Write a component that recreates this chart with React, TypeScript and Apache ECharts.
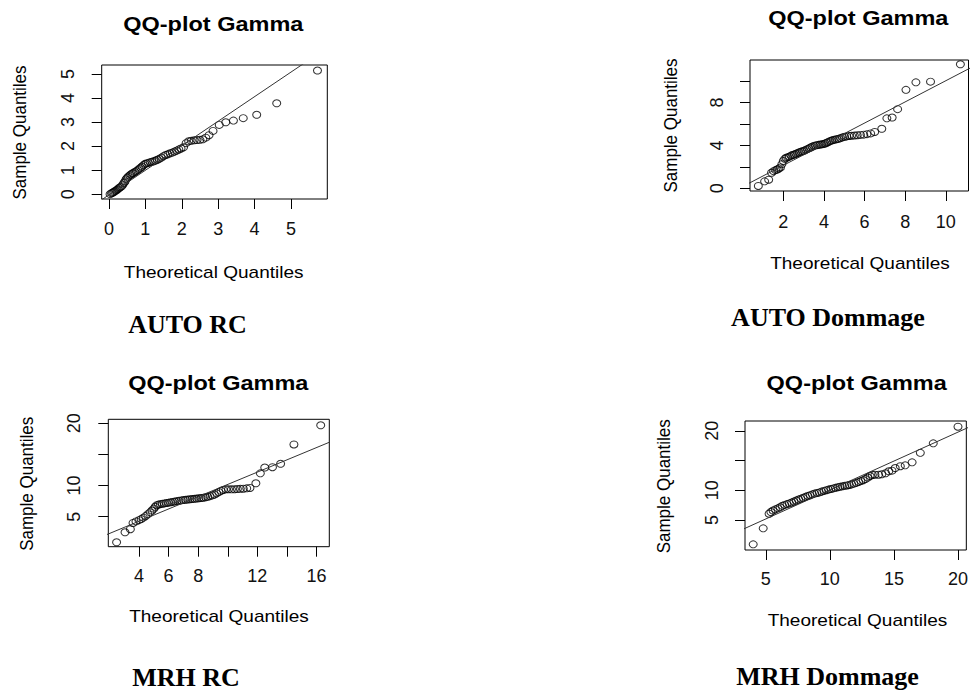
import React, { useEffect, useRef } from 'react';
import * as echarts from 'echarts';

const FONT_SANS = '"Liberation Sans", Arial, Helvetica, sans-serif';
const FONT_SERIF = '"Liberation Serif", "Times New Roman", serif';

const chartTitle = 'QQ-plot Gamma';
const xAxisTitle = 'Theoretical Quantiles';
const yAxisTitle = 'Sample Quantiles';
const captions = ['AUTO RC', 'AUTO Dommage', 'MRH RC', 'MRH Dommage'];

// ---------- AUTO RC ----------
const autoRcTheo = [
  0.03, 0.07, 0.10, 0.13, 0.16, 0.19, 0.22, 0.25, 0.28, 0.31,
  0.35, 0.38, 0.41, 0.44, 0.47, 0.50, 0.53, 0.57, 0.60, 0.64,
  0.67, 0.71, 0.75, 0.79, 0.83, 0.87, 0.91, 0.95, 0.99, 1.03,
  1.08, 1.13, 1.18, 1.23, 1.28, 1.33, 1.38, 1.44, 1.50, 1.56,
  1.62, 1.68, 1.74, 1.80, 1.86, 1.92, 1.98, 2.05, 2.12, 2.19,
  2.26, 2.34, 2.42, 2.50, 2.58, 2.66, 2.75, 2.86, 3.03, 3.21,
  3.42, 3.69, 4.06, 4.61, 5.73,
];
const autoRcSample = [
  0.00, 0.04, 0.06, 0.09, 0.12, 0.15, 0.18, 0.22, 0.26, 0.29,
  0.33, 0.40, 0.47, 0.53, 0.62, 0.68, 0.73, 0.78, 0.82, 0.86,
  0.88, 0.92, 0.96, 1.00, 1.05, 1.10, 1.15, 1.21, 1.26, 1.28,
  1.30, 1.33, 1.35, 1.37, 1.40, 1.43, 1.47, 1.52, 1.58, 1.63,
  1.66, 1.70, 1.73, 1.77, 1.81, 1.86, 1.90, 1.95, 2.12, 2.20,
  2.22, 2.24, 2.25, 2.26, 2.28, 2.35, 2.45, 2.63, 2.88, 2.99,
  3.06, 3.16, 3.30, 3.78, 5.14,
];
const autoRcLineX = [-0.3, 6.1];
const autoRcLineY = [-0.333, 6.195];
const autoRcXTicks = [0, 1, 2, 3, 4, 5];
const autoRcXLabels = [0, 1, 2, 3, 4, 5];
const autoRcYTicks = [0, 1, 2, 3, 4, 5];
const autoRcYLabels = [0, 1, 2, 3, 4, 5];

// ---------- AUTO Dommage ----------
const autoDomTheo = [
  0.77, 1.08, 1.28, 1.42, 1.52, 1.62, 1.70, 1.78, 1.86, 1.93,
  2.00, 2.07, 2.14, 2.22, 2.30, 2.38, 2.46, 2.54, 2.62, 2.70,
  2.78, 2.86, 2.94, 3.02, 3.10, 3.18, 3.26, 3.34, 3.42, 3.50,
  3.58, 3.66, 3.74, 3.82, 3.90, 3.98, 4.06, 4.14, 4.22, 4.30,
  4.38, 4.46, 4.55, 4.64, 4.73, 4.82, 4.92, 5.02, 5.12, 5.24,
  5.36, 5.50, 5.64, 5.80, 5.96, 6.12, 6.30, 6.50, 6.85, 7.10,
  7.36, 7.63, 8.04, 8.53, 9.25, 10.72,
];
const autoDomSample = [
  0.22, 0.65, 0.80, 1.45, 1.60, 1.70, 1.75, 1.85, 1.95, 2.25,
  2.55, 2.75, 2.85, 2.90, 2.95, 3.05, 3.10, 3.15, 3.22, 3.28,
  3.35, 3.40, 3.45, 3.50, 3.58, 3.65, 3.72, 3.80, 3.88, 3.95,
  4.00, 4.02, 4.05, 4.08, 4.10, 4.12, 4.18, 4.25, 4.32, 4.40,
  4.45, 4.50, 4.55, 4.58, 4.62, 4.68, 4.75, 4.80, 4.84, 4.88,
  4.90, 4.92, 4.95, 4.98, 5.00, 5.05, 5.12, 5.25, 5.55, 6.52,
  6.60, 7.38, 9.18, 9.88, 9.94, 11.56,
];
const autoDomLineX = [0.2, 11.3];
const autoDomLineY = [0.362, 11.307];
const autoDomXTicks = [2, 4, 6, 8, 10];
const autoDomXLabels = [2, 4, 6, 8, 10];
const autoDomYTicks = [0, 2, 4, 6, 8, 10];
const autoDomYLabels = [0, 4, 8];

// ---------- MRH RC ----------
const mrhRcTheo = [
  2.49, 3.06, 3.42, 3.60, 3.80, 4.00, 4.15, 4.30, 4.45, 4.60,
  4.75, 4.88, 5.00, 5.10, 5.20, 5.32, 5.45, 5.58, 5.72, 5.86,
  6.00, 6.14, 6.28, 6.42, 6.56, 6.70, 6.85, 7.00, 7.15, 7.30,
  7.45, 7.60, 7.75, 7.90, 8.05, 8.20, 8.35, 8.50, 8.65, 8.80,
  8.95, 9.10, 9.25, 9.40, 9.55, 9.70, 9.88, 10.05, 10.25, 10.45,
  10.65, 10.85, 11.05, 11.28, 11.50, 11.90, 12.20, 12.50, 13.02, 13.57,
  14.47, 16.28,
];
const mrhRcSample = [
  0.90, 2.50, 3.00, 4.00, 4.25, 4.45, 4.62, 4.85, 5.10, 5.40,
  5.70, 6.00, 6.30, 6.60, 6.85, 6.95, 7.02, 7.08, 7.14, 7.20,
  7.26, 7.32, 7.38, 7.44, 7.50, 7.56, 7.62, 7.68, 7.72, 7.76,
  7.80, 7.84, 7.88, 7.92, 7.96, 8.00, 8.05, 8.12, 8.20, 8.30,
  8.42, 8.55, 8.75, 8.95, 9.15, 9.30, 9.40, 9.42, 9.40, 9.42,
  9.45, 9.48, 9.50, 9.56, 9.62, 10.37, 11.97, 12.90, 12.95, 13.50,
  16.60, 19.68,
];
const mrhRcLineX = [1.8, 17.0];
const mrhRcLineY = [2.105, 17.09];
const mrhRcXTicks = [4, 6, 8, 10, 12, 14, 16];
const mrhRcXLabels = [4, 6, 8, 12, 16];
const mrhRcYTicks = [5, 10, 15, 20];
const mrhRcYLabels = [5, 10, 20];

// ---------- MRH Dommage ----------
const mrhDomTheo = [
  4.02, 4.80, 5.26, 5.40, 5.57, 5.75, 5.95, 6.12, 6.30, 6.48,
  6.66, 6.84, 7.02, 7.20, 7.38, 7.56, 7.74, 7.92, 8.10, 8.28,
  8.46, 8.64, 8.82, 9.00, 9.18, 9.36, 9.54, 9.72, 9.90, 10.08,
  10.26, 10.44, 10.62, 10.80, 10.98, 11.16, 11.34, 11.52, 11.70, 11.88,
  12.06, 12.24, 12.42, 12.60, 12.78, 12.96, 13.14, 13.32, 13.52, 13.80,
  14.05, 14.35, 14.60, 14.85, 15.10, 15.50, 15.88, 16.42, 17.06, 18.07,
  20.00,
];
const mrhDomSample = [
  0.92, 3.61, 6.07, 6.35, 6.60, 6.80, 6.97, 7.15, 7.40, 7.55,
  7.68, 7.80, 7.95, 8.12, 8.28, 8.45, 8.60, 8.75, 8.90, 9.05,
  9.18, 9.32, 9.45, 9.55, 9.65, 9.78, 9.90, 10.02, 10.12, 10.22,
  10.32, 10.42, 10.52, 10.60, 10.68, 10.75, 10.82, 10.90, 11.00, 11.12,
  11.25, 11.40, 11.55, 11.70, 11.90, 12.15, 12.40, 12.58, 12.62, 12.62,
  12.70, 12.86, 13.20, 13.30, 13.75, 14.05, 14.20, 14.70, 16.30, 17.90,
  20.69,
];
const mrhDomLineX = [3.2, 20.8];
const mrhDomLineY = [3.434, 20.56];
const mrhDomXTicks = [5, 10, 15, 20];
const mrhDomXLabels = [5, 10, 15, 20];
const mrhDomYTicks = [5, 10, 15, 20];
const mrhDomYLabels = [5, 10, 20];

// ---------- panels: data references ----------
const panelData = [
  { theo: autoRcTheo, sample: autoRcSample, lineX: autoRcLineX, lineY: autoRcLineY,
    xTicks: autoRcXTicks, xLabels: autoRcXLabels, yTicks: autoRcYTicks, yLabels: autoRcYLabels },
  { theo: autoDomTheo, sample: autoDomSample, lineX: autoDomLineX, lineY: autoDomLineY,
    xTicks: autoDomXTicks, xLabels: autoDomXLabels, yTicks: autoDomYTicks, yLabels: autoDomYLabels },
  { theo: mrhRcTheo, sample: mrhRcSample, lineX: mrhRcLineX, lineY: mrhRcLineY,
    xTicks: mrhRcXTicks, xLabels: mrhRcXLabels, yTicks: mrhRcYTicks, yLabels: mrhRcYLabels },
  { theo: mrhDomTheo, sample: mrhDomSample, lineX: mrhDomLineX, lineY: mrhDomLineY,
    xTicks: mrhDomXTicks, xLabels: mrhDomXLabels, yTicks: mrhDomYTicks, yLabels: mrhDomYLabels },
];

// ---------- panels: layout ----------
const panelLayout = [
  { left: 101.7, top: 65, width: 225.6, height: 134, xMin: -0.2, xMax: 6.0, yMin: -0.2, yMax: 5.37,
    xLabelMargin: 20.5, yLabelMargin: 24.5, title: [213.3, 24], xName: [213.7, 272.5], yName: [19.7, 132.5], caption: [187.5, 324] },
  { left: 750, top: 60, width: 218.5, height: 131, xMin: 0.36, xMax: 11.12, yMin: -0.25, yMax: 11.96,
    xLabelMargin: 21.5, yLabelMargin: 24, title: [858.3, 18], xName: [860, 263], yName: [670.8, 125.5], caption: [828, 317] },
  { left: 108.3, top: 419.3, width: 221, height: 127.4, xMin: 1.93, xMax: 16.86, yMin: 0.19, yMax: 20.64,
    xLabelMargin: 20.5, yLabelMargin: 25.5, title: [218.3, 383], xName: [219, 616.7], yName: [26.7, 483.8], caption: [186, 677] },
  { left: 745, top: 421, width: 223.3, height: 129, xMin: 3.38, xMax: 20.65, yMin: -0.03, yMax: 21.65,
    xLabelMargin: 20, yLabelMargin: 24.5, title: [856.7, 383], xName: [857.5, 620], yName: [663.3, 486.3], caption: [827.5, 676.5] },
];

function textEl(text: string, x: number, y: number, opts: any) {
  return {
    type: 'text',
    x,
    y,
    rotation: opts.rotation || 0,
    scaleX: opts.scaleX || 1,
    scaleY: opts.scaleY || 1,
    silent: true,
    z: 100,
    style: {
      text,
      fill: '#000',
      fontSize: opts.fontSize,
      fontFamily: opts.fontFamily,
      fontWeight: opts.fontWeight || 'normal',
      align: 'center',
      verticalAlign: 'middle',
      textAlign: 'center',
      textVerticalAlign: 'middle',
    },
  };
}

function buildOption() {
  const grid: any[] = [];
  const xAxis: any[] = [];
  const yAxis: any[] = [];
  const series: any[] = [];
  const graphic: any[] = [];

  panelData.forEach((d, i) => {
    const L = panelLayout[i];
    grid.push({
      left: L.left,
      top: L.top,
      width: L.width,
      height: L.height,
      show: true,
      borderColor: '#000',
      borderWidth: 1,
      backgroundColor: 'transparent',
      containLabel: false,
    });
    xAxis.push({
      type: 'value',
      gridIndex: i,
      min: L.xMin,
      max: L.xMax,
      axisLine: { show: false, onZero: false },
      axisTick: { show: true, inside: false, length: 10, customValues: d.xTicks, lineStyle: { color: '#000', width: 1 } },
      axisLabel: { show: true, customValues: d.xLabels, margin: L.xLabelMargin, fontSize: 18, color: '#111', fontFamily: FONT_SANS },
      splitLine: { show: false },
    });
    yAxis.push({
      type: 'value',
      gridIndex: i,
      min: L.yMin,
      max: L.yMax,
      axisLine: { show: false, onZero: false },
      axisTick: { show: true, inside: false, length: 10, customValues: d.yTicks, lineStyle: { color: '#000', width: 1 } },
      axisLabel: { show: true, customValues: d.yLabels, rotate: 90, margin: L.yLabelMargin, fontSize: 18, color: '#111', fontFamily: FONT_SANS },
      splitLine: { show: false },
    });
    series.push({
      type: 'line',
      xAxisIndex: i,
      yAxisIndex: i,
      data: d.lineX.map((x, k) => [x, d.lineY[k]]),
      symbol: 'none',
      showSymbol: false,
      clip: true,
      silent: true,
      lineStyle: { color: '#333', width: 1 },
    });
    series.push({
      type: 'scatter',
      xAxisIndex: i,
      yAxisIndex: i,
      data: d.theo.map((x, k) => [x, d.sample[k]]),
      symbol: 'circle',
      symbolSize: [8, 7],
      silent: true,
      itemStyle: { color: 'rgba(0,0,0,0)', borderColor: '#000', borderWidth: 1 },
    });

    graphic.push(textEl(chartTitle, L.title[0], L.title[1], { fontSize: 21, fontWeight: 'bold', fontFamily: FONT_SANS, scaleX: 1.12 }));
    graphic.push(textEl(xAxisTitle, L.xName[0], L.xName[1], { fontSize: 17, fontFamily: FONT_SANS, scaleX: 1.12 }));
    graphic.push(textEl(yAxisTitle, L.yName[0], L.yName[1], { fontSize: 17, fontFamily: FONT_SANS, rotation: Math.PI / 2, scaleY: 1.12 }));
    graphic.push(textEl(captions[i], L.caption[0], L.caption[1], { fontSize: 26, fontWeight: 'bold', fontFamily: FONT_SERIF }));
  });

  return {
    animation: false,
    backgroundColor: '#fff',
    grid,
    xAxis,
    yAxis,
    series,
    graphic: { elements: graphic },
  };
}

export default function App() {
  const ref = useRef<HTMLDivElement>(null);
  useEffect(() => {
    if (!ref.current) return;
    const chart = echarts.init(ref.current, null, { renderer: 'svg', width: 971, height: 690 });
    chart.setOption(buildOption());
    return () => {
      chart.dispose();
    };
  }, []);
  return (
    <div
      ref={ref}
      style={{ position: 'absolute', left: 0, top: 0, width: 971, height: 690, background: '#fff' }}
    />
  );
}
